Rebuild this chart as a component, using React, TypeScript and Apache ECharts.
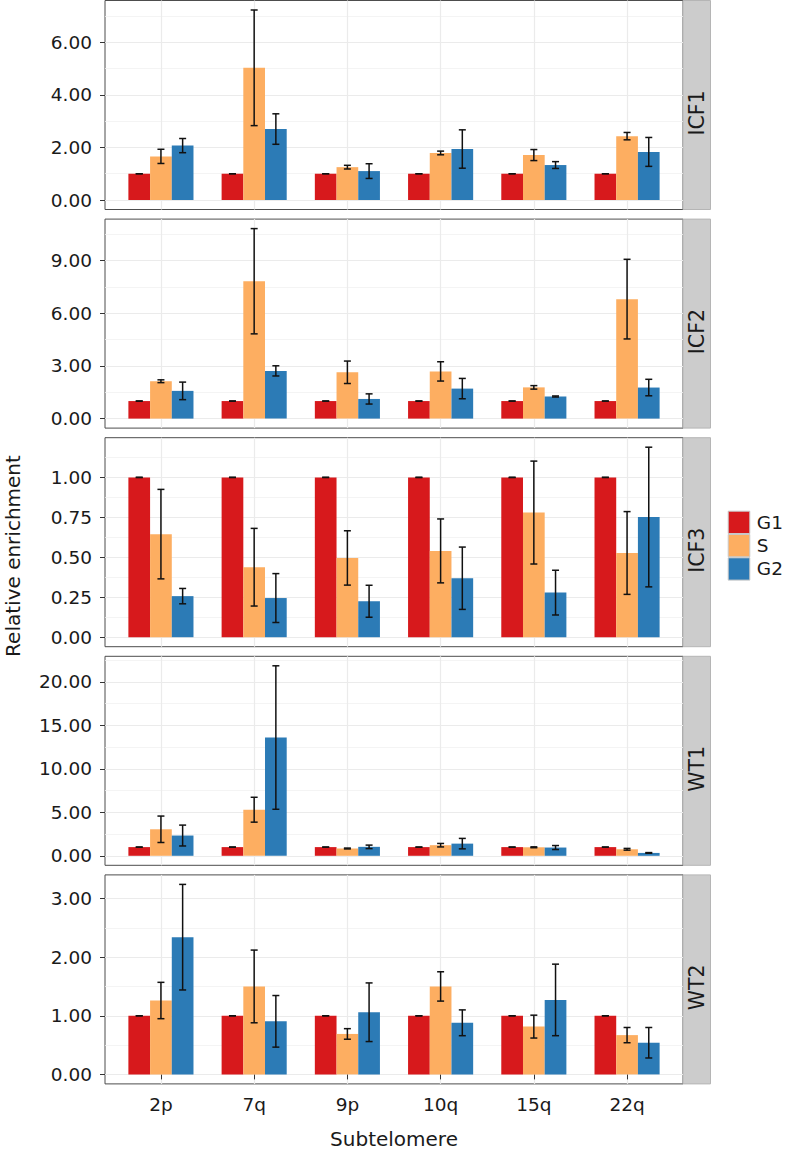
import React, { useEffect, useRef } from 'react';
import * as echarts from 'echarts';

// ---------- data ----------
const categories = ['2p', '7q', '9p', '10q', '15q', '22q'];
const phases = ['G1', 'S', 'G2'];
const phaseColors = ['#D7191C', '#FDAE61', '#2C7BB6'];
const panelNames = ['ICF1', 'ICF2', 'ICF3', 'WT1', 'WT2'];

const icf1_G1 = [1, 1, 1, 1, 1, 1];
const icf1_G1_sd = [0, 0, 0, 0, 0, 0];
const icf1_S = [1.66, 5.03, 1.25, 1.79, 1.71, 2.43];
const icf1_S_sd = [0.27, 2.2, 0.07, 0.07, 0.21, 0.14];
const icf1_G2 = [2.07, 2.7, 1.1, 1.94, 1.33, 1.83];
const icf1_G2_sd = [0.27, 0.58, 0.28, 0.73, 0.13, 0.55];
const icf1Ticks = [0, 2, 4, 6];

const icf2_G1 = [1, 1, 1, 1, 1, 1];
const icf2_G1_sd = [0, 0, 0, 0, 0, 0];
const icf2_S = [2.13, 7.83, 2.64, 2.69, 1.78, 6.81];
const icf2_S_sd = [0.08, 3.0, 0.64, 0.55, 0.1, 2.27];
const icf2_G2 = [1.58, 2.72, 1.12, 1.71, 1.26, 1.77];
const icf2_G2_sd = [0.5, 0.29, 0.29, 0.58, 0.03, 0.47];
const icf2Ticks = [0, 3, 6, 9];

const icf3_G1 = [1, 1, 1, 1, 1, 1];
const icf3_G1_sd = [0, 0, 0, 0, 0, 0];
const icf3_S = [0.645, 0.438, 0.496, 0.54, 0.78, 0.527];
const icf3_S_sd = [0.28, 0.243, 0.17, 0.2, 0.322, 0.259];
const icf3_G2 = [0.257, 0.245, 0.225, 0.369, 0.279, 0.752];
const icf3_G2_sd = [0.048, 0.153, 0.1, 0.195, 0.14, 0.437];
const icf3Ticks = [0, 0.25, 0.5, 0.75, 1];

const wt1_G1 = [1, 1, 1, 1, 1, 1];
const wt1_G1_sd = [0, 0, 0, 0, 0, 0];
const wt1_S = [3.05, 5.3, 0.84, 1.22, 0.98, 0.75];
const wt1_S_sd = [1.52, 1.43, 0.05, 0.2, 0.05, 0.1];
const wt1_G2 = [2.33, 13.6, 1.03, 1.4, 0.95, 0.33];
const wt1_G2_sd = [1.2, 8.25, 0.2, 0.6, 0.23, 0.04];
const wt1Ticks = [0, 5, 10, 15, 20];

const wt2_G1 = [1, 1, 1, 1, 1, 1];
const wt2_G1_sd = [0, 0, 0, 0, 0, 0];
const wt2_S = [1.26, 1.5, 0.69, 1.5, 0.815, 0.67];
const wt2_S_sd = [0.31, 0.62, 0.09, 0.25, 0.195, 0.13];
const wt2_G2 = [2.34, 0.905, 1.06, 0.88, 1.27, 0.54];
const wt2_G2_sd = [0.9, 0.44, 0.5, 0.22, 0.61, 0.26];
const wt2Ticks = [0, 1, 2, 3];

const panels = [
  { means: [icf1_G1, icf1_S, icf1_G2], sds: [icf1_G1_sd, icf1_S_sd, icf1_G2_sd], ticks: icf1Ticks },
  { means: [icf2_G1, icf2_S, icf2_G2], sds: [icf2_G1_sd, icf2_S_sd, icf2_G2_sd], ticks: icf2Ticks },
  { means: [icf3_G1, icf3_S, icf3_G2], sds: [icf3_G1_sd, icf3_S_sd, icf3_G2_sd], ticks: icf3Ticks },
  { means: [wt1_G1, wt1_S, wt1_G2], sds: [wt1_G1_sd, wt1_S_sd, wt1_G2_sd], ticks: wt1Ticks },
  { means: [wt2_G1, wt2_S, wt2_G2], sds: [wt2_G1_sd, wt2_S_sd, wt2_G2_sd], ticks: wt2Ticks },
];

// ---------- layout ----------
const W = 788;
const H = 1151;
const FONT = '"DejaVu Sans", "Liberation Sans", Arial, sans-serif';
const TEXT = '#1a1a1a';
const GRID_LEFT = 105;
const GRID_RIGHT_X = 683;
const PANEL_TOP0 = 0.5;
const PANEL_STEP = 218.6;
const PANEL_H = 209;
const STRIP_W = 27.5;
const BAR_W = 21.7;
const CAP = 3.5;

function buildOption() {
  const last = panels.length - 1;
  const catPos = categories.map((_, i) => i + 1);
  const grids: any[] = [];
  const xAxes: any[] = [];
  const yAxes: any[] = [];
  const minorAxes: any[] = [];
  const series: any[] = [];
  const graphics: any[] = [];

  panels.forEach((p, k) => {
    let top = 0;
    p.means.forEach((arr, g) => arr.forEach((v, i) => { top = Math.max(top, v + p.sds[g][i]); }));
    const yMin = -0.05 * top;
    const yMax = 1.05 * top;
    const step = p.ticks[1] - p.ticks[0];
    const minor = p.ticks.map((t) => t + step / 2).filter((v) => v > yMin && v < yMax);
    const gTop = PANEL_TOP0 + k * PANEL_STEP;

    grids.push({
      left: GRID_LEFT, right: W - GRID_RIGHT_X, top: gTop, height: PANEL_H,
      show: true, borderColor: '#4D4D4D', borderWidth: 1, backgroundColor: '#ffffff',
    });
    xAxes.push({
      type: 'value', gridIndex: k, min: 0.4, max: categories.length + 0.6,
      axisLine: { show: false },
      axisTick: { show: k === last, length: 5, lineStyle: { color: '#333', width: 1 }, customValues: catPos },
      axisLabel: {
        show: k === last, customValues: catPos, margin: 11,
        formatter: (v: number) => categories[Math.round(v) - 1],
        fontSize: 18.5, color: TEXT, fontFamily: FONT,
      },
      splitLine: { show: true, lineStyle: { color: '#EBEBEB', width: 1.2 } },
    });
    yAxes.push({
      type: 'value', gridIndex: k, min: yMin, max: yMax, position: 'left',
      axisLine: { show: false },
      axisTick: { show: true, length: 5, lineStyle: { color: '#333', width: 1 }, customValues: p.ticks },
      axisLabel: {
        customValues: p.ticks, margin: 13, formatter: (v: number) => v.toFixed(2),
        fontSize: 18.5, color: TEXT, fontFamily: FONT,
      },
      splitLine: { show: true, lineStyle: { color: '#EBEBEB', width: 1.2 } },
    });
    minorAxes.push({
      type: 'value', gridIndex: k, min: yMin, max: yMax, position: 'left',
      axisLine: { show: false },
      axisTick: { show: false, customValues: minor },
      axisLabel: { show: false, customValues: minor },
      splitLine: { show: true, lineStyle: { color: '#F1F1F1', width: 0.8 } },
    });

    phases.forEach((ph, g) => {
      series.push({
        type: 'bar', name: ph, xAxisIndex: k, yAxisIndex: k,
        data: categories.map((_, i) => [i + 1, p.means[g][i]]),
        barWidth: BAR_W, barGap: '0%',
        itemStyle: { color: phaseColors[g] },
        z: 2, silent: true,
      });
    });

    const rows: number[][] = [];
    phases.forEach((_, g) => categories.forEach((__, i) => rows.push([i + 1, p.means[g][i], p.sds[g][i], g])));
    series.push({
      type: 'custom', name: 'err' + k, xAxisIndex: k, yAxisIndex: k,
      data: rows, encode: { x: 0, y: 1 }, z: 3, silent: true,
      renderItem: (params: any, api: any) => {
        const x = api.value(0), m = api.value(1), e = api.value(2), g = api.value(3);
        const shift = (g - (phases.length - 1) / 2) * BAR_W;
        const c0 = api.coord([x, m + e]);
        const c1 = api.coord([x, m - e]);
        const px = c0[0] + shift;
        const st = { stroke: '#111111', lineWidth: 1.5 };
        return {
          type: 'group',
          children: [
            { type: 'line', shape: { x1: px, y1: c0[1], x2: px, y2: c1[1] }, style: st },
            { type: 'line', shape: { x1: px - CAP, y1: c0[1], x2: px + CAP, y2: c0[1] }, style: st },
            { type: 'line', shape: { x1: px - CAP, y1: c1[1], x2: px + CAP, y2: c1[1] }, style: st },
          ],
        };
      },
    });

    graphics.push({
      type: 'rect', shape: { x: GRID_RIGHT_X, y: gTop, width: STRIP_W, height: PANEL_H },
      style: { fill: '#CCCCCC', stroke: '#B5B5B5', lineWidth: 1 }, silent: true,
    });
    graphics.push({
      type: 'text', x: GRID_RIGHT_X + STRIP_W / 2 + 0.5, y: gTop + PANEL_H / 2 + 8, rotation: Math.PI / 2,
      style: {
        text: panelNames[k], fill: TEXT, font: `20.5px ${FONT}`,
        align: 'center', verticalAlign: 'middle', textAlign: 'center', textVerticalAlign: 'middle',
      },
      silent: true,
    });
  });

  graphics.push({
    type: 'text', x: 13, y: 556, rotation: Math.PI / 2,
    style: {
      text: 'Relative enrichment', fill: TEXT, font: `20px ${FONT}`,
      align: 'center', verticalAlign: 'middle', textAlign: 'center', textVerticalAlign: 'middle',
    },
    silent: true,
  });
  graphics.push({
    type: 'text', x: (GRID_LEFT + GRID_RIGHT_X) / 2, y: 1139,
    style: {
      text: 'Subtelomere', fill: TEXT, font: `20px ${FONT}`,
      align: 'center', verticalAlign: 'middle', textAlign: 'center', textVerticalAlign: 'middle',
    },
    silent: true,
  });

  return {
    animation: false,
    backgroundColor: '#ffffff',
    grid: grids,
    xAxis: xAxes,
    yAxis: [...yAxes, ...minorAxes],
    legend: {
      data: phases, orient: 'vertical', left: 727.7, top: 510.7, padding: 0,
      itemWidth: 21.6, itemHeight: 22.3, itemGap: 0, icon: 'rect', selectedMode: false,
      itemStyle: { borderColor: '#C8C8C8', borderWidth: 1 },
      textStyle: { fontSize: 18.5, color: TEXT, fontFamily: FONT, padding: [0, 0, 0, 2] },
    },
    series,
    graphic: graphics,
  };
}

export default function App() {
  const ref = useRef<HTMLDivElement>(null);
  useEffect(() => {
    if (!ref.current) return;
    const chart = echarts.init(ref.current, undefined, { renderer: 'svg' });
    chart.setOption(buildOption() as any);
    return () => chart.dispose();
  }, []);
  return (
    <div
      ref={ref}
      style={{ position: 'absolute', left: 0, top: 0, width: W, height: H, background: '#fff' }}
    />
  );
}
